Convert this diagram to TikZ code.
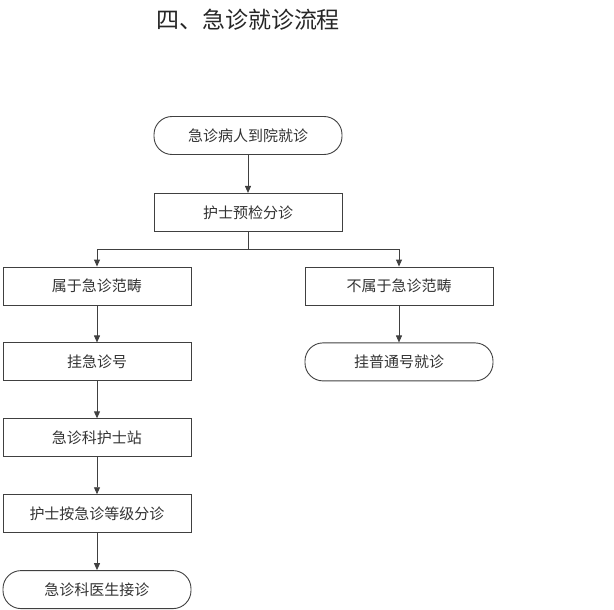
\documentclass[tikz,border=0pt]{standalone}
\usepackage{fontspec}
\setmainfont{Noto Sans CJK SC}
\usetikzlibrary{positioning,arrows.meta}

\begin{document}
\begin{tikzpicture}[x=1pt, y=-1pt, node distance=37pt,
    box/.style={draw=black!75, line width=0.9pt, rectangle, minimum width=188pt, minimum height=38pt, inner sep=0pt, font=\fontsize{15}{17}\selectfont, text=black!80},
    endbox/.style={box, rounded corners=18pt},
    arr/.style={draw=black!75, line width=0.9pt, -{Triangle[length=7pt,width=6pt]}}]
		\useasboundingbox (0,0) rectangle (614,610);
		\node (title) at (248,20) [font=\fontsize{23}{27}\selectfont, text=black!85] {四、急诊就诊流程};
		
		\node (arrive) at (248,135.5) [endbox] {急诊病人到院就诊};
		\node (triage) [box, below=38pt of arrive] {护士预检分诊};
		\node (urgent) at (97,286) [box] {属于急诊范畴};
		\node (normal) at (399,286) [box] {不属于急诊范畴};
		\node (register) [box, below=37pt of urgent] {挂急诊号};
		\node (station) [box, below=37pt of register] {急诊科护士站};
		\node (grade) [box, below=37pt of station] {护士按急诊等级分诊};
		\node (doctor) [endbox, below=37pt of grade] {急诊科医生接诊};
		\node (clinic) [endbox, below=37pt of normal] {挂普通号就诊};
		
		\draw[arr] (arrive) -- (triage);
		\draw[draw=black!75, line width=0.9pt] (triage.south) -- ++(0,18) coordinate (split);
		\draw[arr] (split) -| (urgent);
		\draw[arr] (split) -| (normal);
		\draw[arr] (urgent) -- (register);
		\draw[arr] (register) -- (station);
		\draw[arr] (station) -- (grade);
		\draw[arr] (grade) -- (doctor);
		\draw[arr] (normal) -- (clinic);
	\end{tikzpicture}
\end{document}
